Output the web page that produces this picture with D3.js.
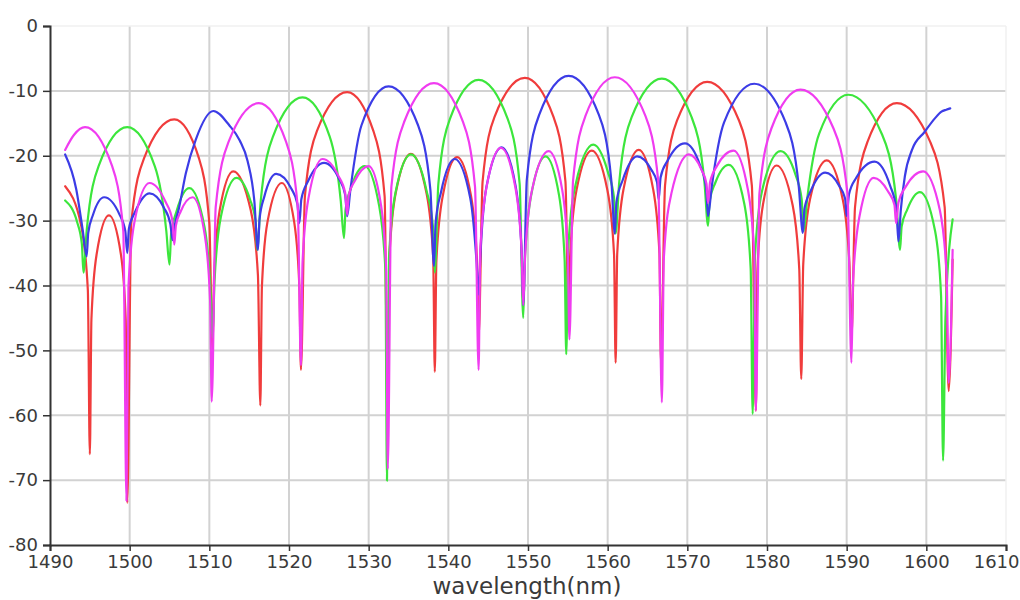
<!DOCTYPE html>
<html><head><meta charset="utf-8">
<script src="https://cdn.jsdelivr.net/npm/d3@7"></script>
<style>
html,body{margin:0;padding:0;background:#fff;}
svg{display:block;}
</style></head>
<body>
<svg id="chart" width="1020" height="600"></svg>
<script>
const xTicks = [1490,1500,1510,1520,1530,1540,1550,1560,1570,1580,1590,1600,1610];
const yTicks = [0,-10,-20,-30,-40,-50,-60,-70,-80];
const xTitle = "wavelength(nm)";

const redSeries = [
[1491.9,-24.7],[1493.9,-30.7],[1494.75,-40.7],[1495.0,-66],
[1495.2,-45.2],[1495.85,-35.2],[1497.4,-29.2],[1498.9,-35.2],[1499.5,-45.2],[1499.7,-73.5],
[1500.2,-30.4],[1501.8,-20.4],[1505.6,-14.4],[1508.7,-20.4],[1510.0,-30.4],[1510.4,-50],
[1510.6,-38.4],[1511.3,-28.4],[1513.0,-22.4],[1515.2,-28.4],[1516.1,-38.4],[1516.4,-58.5],
[1516.6,-40.2],[1517.3,-30.2],[1519.1,-24.2],[1520.65,-30.2],[1521.3,-40.2],[1521.5,-53],
[1522.0,-26.2],[1523.5,-16.2],[1527.3,-10.2],[1530.6,-16.2],[1532.0,-26.2],[1532.4,-62],
[1532.6,-35.7],[1533.4,-25.7],[1535.3,-19.7],[1537.25,-25.7],[1538.1,-35.7],[1538.3,-53.3],
[1538.5,-36.2],[1539.3,-26.2],[1541.1,-20.2],[1542.85,-26.2],[1543.6,-36.2],[1543.8,-48],
[1544.3,-24],[1545.8,-14],[1549.6,-8.0],[1553.2,-14],[1554.7,-24],[1555.1,-46],
[1555.3,-35.2],[1556.1,-25.2],[1558.0,-19.2],[1559.95,-25.2],[1560.8,-35.2],[1561.0,-51.9],
[1561.2,-35.1],[1562.0,-25.1],[1563.9,-19.1],[1565.7,-25.1],[1566.5,-35.1],[1566.7,-52],
[1567.2,-24.6],[1568.7,-14.6],[1572.5,-8.6],[1576.5,-14.6],[1578.1,-24.6],[1578.6,-59.3],
[1578.8,-37.5],[1579.5,-27.5],[1581.2,-21.5],[1583.2,-27.5],[1584.05,-37.5],[1584.3,-54.4],
[1584.55,-36.7],[1585.4,-26.7],[1587.5,-20.7],[1589.5,-26.7],[1590.35,-36.7],[1590.6,-48],
[1591.05,-27.9],[1592.6,-17.9],[1596.3,-11.9],[1600.5,-17.9],[1602.3,-27.9],[1602.8,-56.3],
[1603.3,-36]
];

const greenSeries = [
[1491.9,-26.9],[1493.4,-30.2],[1494.0,-33.6],[1494.2,-38],
[1494.6,-31.6],[1496.1,-21.6],[1499.7,-15.6],[1503.15,-21.6],[1504.6,-31.6],[1505.0,-36.8],
[1505.2,-32.1],[1505.9,-28.5],[1507.5,-25.0],[1509.4,-31],[1510.15,-41],[1510.4,-48],
[1510.65,-39.4],[1511.45,-29.4],[1513.4,-23.4],[1515.1,-26.7],[1515.8,-30.1],[1516.0,-34.5],
[1516.45,-27],[1518.0,-17],[1521.7,-11.0],[1525.1,-17],[1526.5,-27],[1526.9,-32.7],
[1527.1,-28.3],[1527.8,-24.9],[1529.5,-21.6],[1531.3,-27.6],[1532.1,-37.6],[1532.3,-70.1],
[1532.55,-35.8],[1533.35,-25.8],[1535.3,-19.8],[1537.25,-25.3],[1538.05,-30.7],[1538.3,-38],
[1538.75,-24.3],[1540.2,-14.3],[1543.8,-8.3],[1547.45,-14.3],[1548.95,-24.3],[1549.4,-45],
[1549.6,-36.1],[1550.4,-26.1],[1552.2,-20.1],[1553.9,-26.1],[1554.6,-36.1],[1554.8,-50.6],
[1555.05,-34.3],[1556.0,-24.3],[1558.2,-18.3],[1560.0,-22.4],[1560.8,-26.5],[1561.0,-32],
[1561.45,-24.1],[1563.0,-14.1],[1566.8,-8.1],[1570.55,-14.1],[1572.15,-24.1],[1572.6,-30.8],
[1572.8,-27.0],[1573.5,-24.2],[1575.2,-21.4],[1577.15,-27.4],[1577.95,-37.4],[1578.2,-59.8],
[1578.5,-35.3],[1579.4,-25.3],[1581.7,-19.3],[1583.6,-23.0],[1584.35,-26.7],[1584.6,-31.6],
[1585.05,-26.6],[1586.55,-16.6],[1590.2,-10.6],[1594.4,-16.6],[1596.2,-26.6],[1596.7,-34.5],
[1596.9,-30.9],[1597.6,-28.3],[1599.2,-25.6],[1601.1,-31.6],[1601.85,-41.6],[1602.1,-67],
[1602.4,-45],[1603.3,-29.8]
];

const blueSeries = [
[1491.9,-19.8],[1493.3,-25.2],[1494.1,-31.4],[1494.6,-35.5],
[1494.8,-31.9],[1495.4,-29.1],[1496.8,-26.4],[1498.7,-29.0],[1499.45,-31.6],[1499.7,-35.0],
[1499.9,-31.3],[1500.7,-28.6],[1502.5,-25.8],[1504.3,-28.0],[1505.1,-30.5],[1505.4,-33],
[1505.7,-30.5],[1506.2,-28.0],[1507.05,-22.7],[1508.3,-17.5],[1510.5,-13.1],[1512.5,-15.3],[1513.8,-17.6],[1514.8,-20.8],[1515.65,-27],[1516.1,-34.5],
[1516.3,-29.8],[1516.9,-26.3],[1518.4,-22.8],[1520.3,-25.1],[1521.05,-27.4],[1521.3,-30.4],
[1521.55,-26.7],[1522.4,-23.9],[1524.4,-21.1],[1526.3,-23.6],[1527.05,-26.0],[1527.3,-29.3],
[1527.7,-25.3],[1529.1,-15.3],[1532.5,-9.3],[1536.2,-15.3],[1537.75,-25.3],[1538.2,-37],
[1538.4,-30.4],[1539.1,-25.5],[1540.8,-20.5],[1542.75,-26.5],[1543.55,-36.5],[1543.8,-41.4],
[1544.05,-34.7],[1544.8,-24.7],[1546.7,-18.7],[1548.45,-24.7],[1549.2,-34.7],[1549.4,-43],
[1549.85,-23.7],[1551.4,-13.7],[1555.1,-7.7],[1558.9,-13.7],[1560.45,-23.7],[1560.9,-32],
[1561.1,-27.2],[1561.9,-23.7],[1563.7,-20.1],[1565.45,-22.1],[1566.2,-24.1],[1566.4,-26.8],
[1566.65,-23.3],[1567.55,-20.7],[1569.7,-18.1],[1571.6,-21.5],[1572.35,-24.8],[1572.6,-29.3],
[1573.05,-24.9],[1574.6,-14.9],[1578.4,-8.9],[1582.35,-14.9],[1584.0,-24.9],[1584.5,-31.9],
[1584.7,-28.2],[1585.5,-25.4],[1587.3,-22.6],[1589.05,-24.6],[1589.8,-26.6],[1590.0,-29.3],
[1590.3,-25.9],[1591.2,-23.4],[1593.5,-20.9],[1595.45,-24.6],[1596.25,-28.3],[1596.5,-33.2],
[1596.8,-28.3],[1597.3,-23.2],[1598.2,-19.1],[1599.8,-16.3],[1601.1,-14.2],[1601.9,-13.2],[1602.5,-12.9],[1603.0,-12.7]
];

const magentaSeries = [
[1491.9,-19.1],[1493.0,-16.8],[1494.4,-15.6],[1497.8,-21.6],[1499.2,-31.6],[1499.6,-73.2],
[1499.85,-40.2],[1500.6,-30.2],[1502.5,-24.2],[1504.5,-27.1],[1505.35,-29.9],[1505.6,-33.7],
[1505.8,-30.8],[1506.4,-28.6],[1507.9,-26.4],[1509.45,-32.4],[1510.1,-42.4],[1510.3,-57.9],
[1510.8,-27.9],[1512.4,-17.9],[1516.2,-11.9],[1519.65,-17.9],[1521.1,-27.9],[1521.5,-52.3],
[1521.7,-36.5],[1522.45,-26.5],[1524.2,-20.5],[1526.2,-23.1],[1527.05,-25.7],[1527.3,-29.1],
[1527.5,-26.1],[1528.25,-23.9],[1530.0,-21.6],[1531.55,-27.6],[1532.2,-37.6],[1532.4,-68.3],
[1532.85,-24.8],[1534.45,-14.8],[1538.2,-8.8],[1541.85,-14.8],[1543.35,-24.8],[1543.8,-53],
[1544.0,-34.8],[1544.8,-24.8],[1546.6,-18.8],[1548.4,-24.8],[1549.2,-34.8],[1549.4,-43],
[1549.65,-35.3],[1550.5,-25.3],[1552.6,-19.3],[1554.3,-25.3],[1555.0,-35.3],[1555.2,-48.3],
[1555.65,-23.9],[1557.2,-13.9],[1560.9,-7.9],[1564.75,-13.9],[1566.35,-23.9],[1566.8,-58],
[1567.05,-35.8],[1568.0,-25.8],[1570.2,-19.8],[1571.75,-22.1],[1572.4,-24.3],[1572.6,-27.3],
[1572.85,-24.1],[1573.7,-21.6],[1575.8,-19.2],[1577.6,-25.2],[1578.4,-35.2],[1578.6,-59.3],
[1579.05,-25.8],[1580.55,-15.8],[1584.2,-9.8],[1588.35,-15.8],[1590.1,-25.8],[1590.6,-51.9],
[1590.8,-39.4],[1591.6,-29.4],[1593.4,-23.4],[1595.2,-25.5],[1596.0,-27.6],[1596.2,-30.4],
[1596.5,-27.2],[1597.4,-24.8],[1599.6,-22.4],[1601.7,-28.4],[1602.55,-38.4],[1602.8,-55],
[1603.3,-34.5]
];

const seriesList = [
  {name:"red", data: redSeries, color:"#f03c3c"},
  {name:"green", data: greenSeries, color:"#3ce63c"},
  {name:"blue", data: blueSeries, color:"#3c3ce6"},
  {name:"magenta", data: magentaSeries, color:"#f03cf0"}
];

const svg = d3.select("#chart");
const x = d3.scaleLinear().domain([1490,1610]).range([50,1006]);
const y = d3.scaleLinear().domain([-80,0]).range([545,26]);

// grid
const grid = svg.append("g");
grid.selectAll("line.v").data(xTicks.filter(d=>d>1490 && d<1610)).join("line")
  .attr("x1",d=>x(d)).attr("x2",d=>x(d)).attr("y1",y(0)).attr("y2",y(-80))
  .attr("stroke","#d2d2d2").attr("stroke-width",2);
grid.selectAll("line.h").data(yTicks.filter(d=>d>-80 && d<0)).join("line")
  .attr("x1",x(1490)).attr("x2",x(1610)).attr("y1",d=>y(d)).attr("y2",d=>y(d))
  .attr("stroke","#d2d2d2").attr("stroke-width",2);
grid.append("line").attr("x1",x(1490)).attr("x2",x(1610)).attr("y1",y(0)).attr("y2",y(0))
  .attr("stroke","#f0f0f0").attr("stroke-width",1.5);
grid.append("line").attr("x1",x(1610)).attr("x2",x(1610)).attr("y1",y(0)).attr("y2",y(-80))
  .attr("stroke","#f0f0f0").attr("stroke-width",1.5);

// lines
const line = d3.line().x(d=>x(d[0])).y(d=>y(d[1])).curve(d3.curveMonotoneX);
svg.append("g").selectAll("path").data(seriesList).join("path")
  .attr("d",d=>line(d.data)).attr("fill","none")
  .attr("stroke",d=>d.color).attr("stroke-width",2.2)
  .attr("stroke-linejoin","round").attr("stroke-linecap","round");

// axes
const xAxis = d3.axisBottom(x).tickValues(xTicks).tickFormat(d3.format("d")).tickSizeOuter(0).tickSize(6).tickPadding(4);
const gx = svg.append("g").attr("transform",`translate(0,${y(-80)})`).call(xAxis);
const yAxis = d3.axisLeft(y).tickValues(yTicks).tickFormat(d3.format("d")).tickSizeOuter(0).tickSize(7).tickPadding(5);
const gy = svg.append("g").attr("transform",`translate(${x(1490)},0)`).call(yAxis);
[gx,gy].forEach(g=>{
  g.select(".domain").attr("stroke","#333").attr("stroke-width",2);
  g.selectAll(".tick line").attr("stroke","#333").attr("stroke-width",1.5);
  g.selectAll(".tick text").attr("fill","#3a3a3a").style("font-family","'DejaVu Sans', sans-serif").style("font-size","18px");
});
gy.selectAll(".tick text").text(d=>String(d));
// keep last x label inside the page
gx.selectAll(".tick text").filter(d=>d===1610).attr("text-anchor","end").attr("dx",13);

svg.append("text").attr("x",527).attr("y",594).attr("text-anchor","middle")
  .attr("fill","#3a3a3a").style("font-family","'DejaVu Sans', sans-serif").style("font-size","23px")
  .text(xTitle);
</script>
</body></html>
